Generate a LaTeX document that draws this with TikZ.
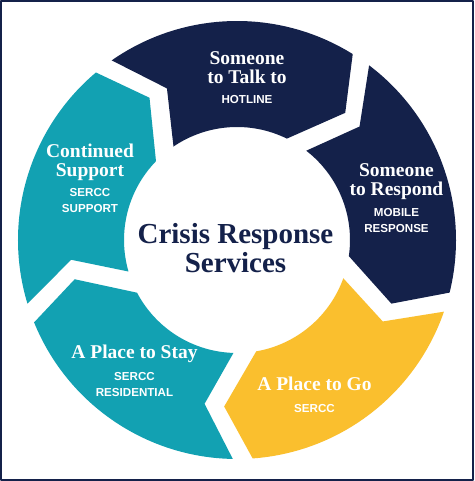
\documentclass[tikz,border=0pt]{standalone}
\usepackage{fontspec}
\setmainfont{Liberation Serif}
\setsansfont{Liberation Sans}
\usepackage{tikz}
\definecolor{navy}{rgb}{0.08,0.13,0.29}
\definecolor{teal}{rgb}{0.07,0.63,0.70}
\definecolor{gold}{rgb}{0.98,0.75,0.18}

\begin{document}
\begin{tikzpicture}[line cap=round,line join=round,x=1pt,y=1pt,
	head/.style={text=white,font=\bfseries\fontsize{19.5}{18.5}\selectfont,align=center,anchor=north,inner sep=0pt},
	sub/.style={text=white,font=\sffamily\bfseries\fontsize{11.6}{16}\selectfont,align=center,anchor=north,inner sep=0pt}]
	\useasboundingbox (-237,-241) rectangle (237,240);
	\fill [white] (-237,-241) rectangle (237,240);
	\fill [navy] (124.9:219) arc[start angle=124.9,end angle=58.1,radius=219pt] -- (49.6:167) -- (63.8:113) arc[start angle=63.8,end angle=124.2,radius=113pt] -- (114.8:167) -- cycle;
	\fill [navy] (52.9:219) arc[start angle=52.9,end angle=-13.9,radius=219pt] -- (-22.4:167) -- (-8.2:113) arc[start angle=-8.2,end angle=52.2,radius=113pt] -- (42.8:167) -- cycle;
	\fill [gold] (-19.1:219) arc[start angle=-19.1,end angle=-85.9,radius=219pt] -- (-94.4:167) -- (-80.2:113) arc[start angle=-80.2,end angle=-19.8,radius=113pt] -- (-29.2:167) -- cycle;
	\fill [teal] (-91.1:219) arc[start angle=-91.1,end angle=-157.9,radius=219pt] -- (-166.4:167) -- (-152.2:113) arc[start angle=-152.2,end angle=-91.8,radius=113pt] -- (-101.2:167) -- cycle;
	\fill [teal] (-163.1:219) arc[start angle=-163.1,end angle=-229.9,radius=219pt] -- (-238.4:167) -- (-224.2:113) arc[start angle=-224.2,end angle=-163.8,radius=113pt] -- (-173.2:167) -- cycle;
	\node [head] (talk) at (10,188.2) {Someone\\to Talk to};
	\node [sub] (hotline) at (10,144.3) {HOTLINE};
	\node [head] (respond) at (159.5,76.2) {Someone\\to Respond};
	\node [sub] (mobile) at (159.5,31.3) {MOBILE\\RESPONSE};
	\node [head] (go) at (77.5,-136.8) {A Place to Go};
	\node [sub] (sercc) at (77.5,-163.7) {SERCC};
	\node [head] (stay) at (-102.5,-104.8) {A Place to Stay};
	\node [sub] (residential) at (-102.5,-131.7) {SERCC\\RESIDENTIAL};
	\node [head] (continued) at (-147,96.2) {Continued\\Support};
	\node [sub] (support) at (-147,51.3) {SERCC\\SUPPORT};
	\node [text=navy,font=\bfseries\fontsize{29}{29}\selectfont,align=center,anchor=north,inner sep=0pt] (title) at (-1.5,16.6) {Crisis Response\\Services};
	\draw [navy,line width=2.5pt] (-235.75,-239.75) rectangle (235.75,238.75);
\end{tikzpicture}
\end{document}
